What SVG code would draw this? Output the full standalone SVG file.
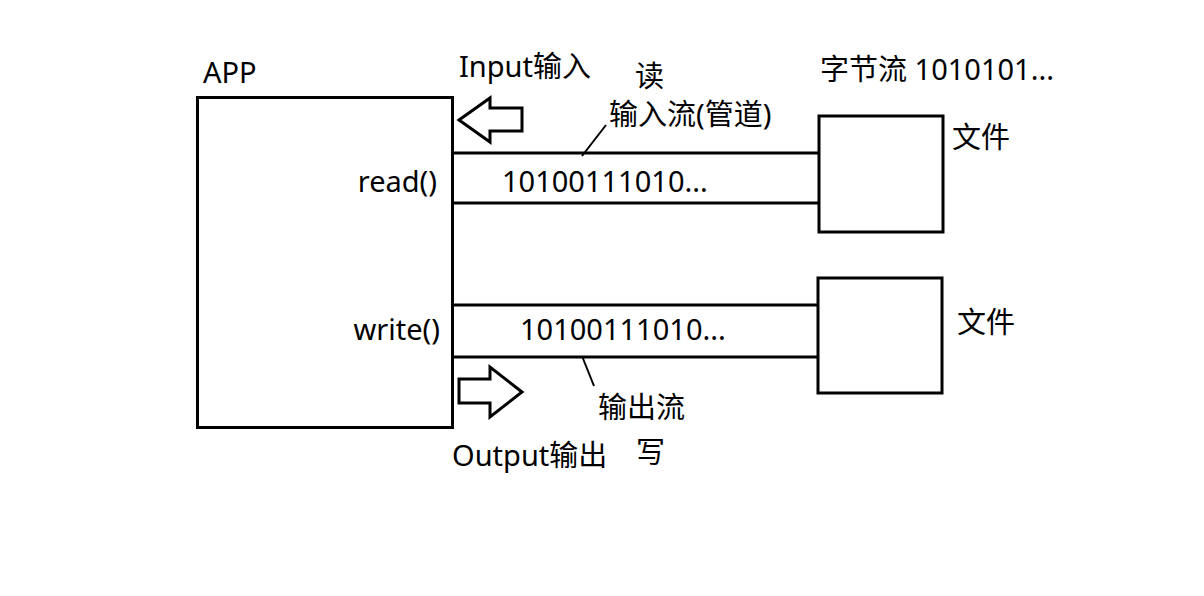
<svg xmlns="http://www.w3.org/2000/svg" width="1204" height="596" viewBox="0 0 1204 596">
<style>
text{font-family:"Noto Sans","Noto Sans CJK SC",sans-serif;font-size:29px;fill:#000}
.box{fill:#fff;stroke:#000;stroke-width:3}
.ln{stroke:#000;stroke-width:3;fill:none}
.thin{stroke:#000;stroke-width:2;fill:none}
.arr{fill:#fff;stroke:#000;stroke-width:3;stroke-linejoin:miter}
</style>
<rect width="1204" height="596" fill="#fff"/>
<g id="app">
<rect class="box" x="197.5" y="97.5" width="255" height="330"/>
<text x="203" y="83">APP</text>
<text x="437" y="192" text-anchor="end">read()</text>
<text x="440" y="340" text-anchor="end">write()</text>
</g>
<g id="file1">
<rect class="box" x="819" y="116" width="124" height="116"/>
<text x="952" y="148">文件</text>
</g>
<g id="file2">
<rect class="box" x="818" y="278" width="124" height="115"/>
<text x="957" y="333">文件</text>
</g>
<g id="connectors">
<line class="ln" x1="453" y1="153" x2="819" y2="153"/>
<line class="ln" x1="453" y1="203" x2="819" y2="203"/>
<line class="ln" x1="453" y1="305" x2="818" y2="305"/>
<line class="ln" x1="453" y1="357" x2="818" y2="357"/>
<line class="thin" x1="582" y1="156" x2="606" y2="125"/>
<line class="thin" x1="582" y1="356" x2="594" y2="386"/>
<polygon class="arr" points="459,120 490,98 490,108 522,108 522,131 490,131 490,142"/>
<polygon class="arr" points="522,392 490,367 490,379 459,379 459,403 490,403 490,417"/>
</g>
<g id="labels">
<text x="459" y="77">Input输入</text>
<text x="635" y="87">读</text>
<text x="609" y="125">输入流(管道)</text>
<text x="502" y="192">10100111010...</text>
<text x="520" y="340">10100111010...</text>
<text x="820" y="80">字节流 1010101...</text>
<text x="598" y="418">输出流</text>
<text x="452" y="466">Output输出</text>
<text x="636" y="463">写</text>
</g>
</svg>
